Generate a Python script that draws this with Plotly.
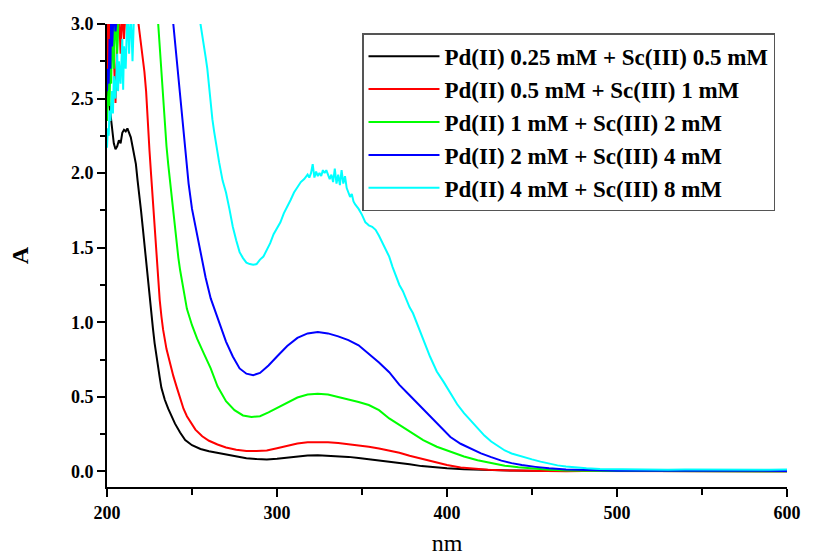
import plotly.graph_objects as go

# ---- data ----
names = [
    "Pd(II) 0.25 mM + Sc(III) 0.5 mM",
    "Pd(II) 0.5 mM + Sc(III) 1 mM",
    "Pd(II) 1 mM + Sc(III) 2 mM",
    "Pd(II) 2 mM + Sc(III) 4 mM",
    "Pd(II) 4 mM + Sc(III) 8 mM",
]
colors = ["#000000", "#ff0000", "#00ff00", "#0000ff", "#00ffff"]

wl_black = [200, 201, 202, 203, 204, 205, 206, 207, 208, 209, 210, 211, 212, 213, 214, 215, 216, 217, 218, 219,
            220, 221, 222, 223, 224, 225, 226, 227, 228, 229, 230, 231, 232, 234, 236, 238, 240, 243, 246, 250,
            255, 260, 265, 270, 276, 282, 288, 294, 300, 306, 312, 318, 324, 330, 336, 342, 348, 354, 360, 366,
            372, 378, 385, 392, 400, 410, 420, 430, 440, 450, 460, 480, 500, 520, 540, 560, 580, 600]
a_black = [2.55, 2.50, 2.40, 2.30, 2.20, 2.16, 2.18, 2.22, 2.20, 2.27, 2.29, 2.28, 2.30, 2.27, 2.24, 2.18, 2.12, 2.06, 1.95, 1.86,
           1.75, 1.64, 1.52, 1.41, 1.30, 1.19, 1.08, 0.96, 0.86, 0.77, 0.70, 0.63, 0.56, 0.48, 0.42, 0.37, 0.32, 0.26, 0.21, 0.175,
           0.15, 0.135, 0.125, 0.115, 0.10, 0.088, 0.082, 0.080, 0.085, 0.092, 0.100, 0.106, 0.108, 0.106, 0.102, 0.097, 0.090, 0.082, 0.075, 0.066,
           0.057, 0.048, 0.035, 0.027, 0.020, 0.014, 0.010, 0.007, 0.005, 0.004, 0.003, 0.003, 0.002, 0.002, 0.001, 0.001, 0.002, 0.001]

wl_red = [200, 200.5, 201, 202, 203, 204, 205, 206, 207, 208, 209, 210, 211, 212, 214, 216, 218, 219, 220, 221,
          222, 223, 224, 225, 226, 227, 228, 229, 230, 231, 232, 233, 235, 237, 239, 241, 243, 245, 247, 249,
          252, 256, 260, 265, 270, 276, 282, 288, 294, 300, 306, 312, 318, 324, 330, 336, 342, 348, 354, 360,
          366, 372, 378, 385, 392, 400, 408, 416, 424, 432, 440, 450, 460, 470, 480, 500, 520, 540, 560, 580, 600]
a_red = [3.10, 2.60, 3.10, 2.90, 3.10, 2.70, 2.47, 2.90, 3.10, 2.80, 3.10, 2.90, 3.10, 3.10, 3.10, 3.10, 3.05, 2.96, 2.88, 2.80,
         2.68, 2.55, 2.32, 2.15, 1.98, 1.80, 1.63, 1.46, 1.29, 1.15, 1.04, 0.95, 0.82, 0.72, 0.64, 0.565, 0.49, 0.42, 0.37, 0.33,
         0.28, 0.235, 0.205, 0.18, 0.16, 0.145, 0.137, 0.136, 0.140, 0.155, 0.172, 0.187, 0.195, 0.197, 0.195, 0.190, 0.182, 0.175, 0.165, 0.153,
         0.140, 0.125, 0.105, 0.085, 0.060, 0.042, 0.026, 0.016, 0.011, 0.007, 0.005, 0.003, 0.002, 0.000, 0.002, 0.001, 0.000, 0.002, 0.001, 0.000, 0.001]

wl_green = [200, 201, 201.5, 202, 202.5, 203, 204, 205, 206, 207, 208, 210, 215, 220, 225, 229, 230, 231, 232, 233,
            234, 235, 236, 237, 238, 239, 240, 241, 242, 243, 245, 247, 250, 253, 257, 261, 265, 270, 275, 280,
            285, 290, 295, 300, 306, 312, 318, 324, 330, 336, 342, 348, 354, 360, 366, 372, 378, 386, 394, 402,
            410, 418, 426, 434, 442, 450, 460, 470, 480, 500, 520, 540, 560, 580, 600]
a_green = [2.35, 2.60, 2.45, 2.80, 2.60, 3.10, 2.70, 3.10, 2.80, 3.10, 3.10, 3.10, 3.10, 3.10, 3.10, 3.10, 3.02, 2.85, 2.66, 2.48,
           2.30, 2.18, 2.06, 1.95, 1.84, 1.73, 1.62, 1.52, 1.43, 1.35, 1.21, 1.09, 0.98, 0.89, 0.79, 0.69, 0.57, 0.47, 0.41, 0.375,
           0.365, 0.370, 0.395, 0.425, 0.460, 0.495, 0.515, 0.520, 0.515, 0.500, 0.480, 0.465, 0.445, 0.410, 0.355, 0.310, 0.270, 0.210, 0.165, 0.130,
           0.100, 0.075, 0.055, 0.038, 0.027, 0.018, 0.011, 0.006, 0.004, 0.003, 0.002, 0.003, 0.001, 0.002, 0.001]

wl_blue = [200, 200.5, 201, 201.5, 202, 202.5, 203, 204, 205, 206, 208, 215, 225, 235, 238, 239, 240, 241, 242, 243,
           244, 245, 246, 247, 248, 250, 252, 254, 256, 258, 261, 264, 267, 270, 274, 278, 282, 286, 290, 295,
           300, 306, 312, 318, 324, 330, 336, 342, 348, 354, 360, 366, 372, 378, 384, 390, 396, 402, 408, 414,
           420, 426, 432, 438, 444, 452, 460, 470, 480, 490, 500, 520, 540, 560, 580, 600]
a_blue = [2.55, 2.70, 2.60, 2.90, 2.70, 3.10, 2.85, 3.10, 2.95, 3.10, 3.10, 3.10, 3.10, 3.10, 3.10, 3.00, 2.88, 2.75, 2.62, 2.50,
          2.38, 2.25, 2.15, 2.03, 1.93, 1.76, 1.64, 1.53, 1.42, 1.30, 1.16, 1.06, 0.96, 0.87, 0.77, 0.69, 0.655, 0.645, 0.660, 0.710,
          0.770, 0.840, 0.895, 0.925, 0.935, 0.925, 0.905, 0.880, 0.845, 0.790, 0.730, 0.665, 0.580, 0.510, 0.440, 0.370, 0.300, 0.230, 0.185, 0.150,
          0.120, 0.095, 0.072, 0.055, 0.042, 0.030, 0.020, 0.013, 0.009, 0.006, 0.004, 0.004, 0.003, 0.004, 0.002, 0.003]

wl_cyan = [200, 200.5, 201, 201.5, 202, 203, 203.5, 204, 205, 206, 206.5, 207, 208, 209, 209.5, 210, 211, 212, 213, 214,
           215, 216, 220, 230, 240, 250, 254, 255, 256, 257, 258, 259, 260, 261, 262, 263, 264, 265, 266, 268,
           270, 272, 274, 276, 278, 280, 282, 284, 286, 288, 290, 292, 294, 296, 298, 300, 302, 304, 306, 308,
           310, 312, 314, 316, 318, 319, 320, 321, 322, 323, 324, 325, 326, 327, 328, 329, 330, 331, 332, 333,
           334, 335, 336, 337, 338, 339, 340, 341, 342, 343, 344, 345, 346, 348, 350, 351, 352, 353, 354, 356,
           358, 360, 362, 364, 366, 368, 370, 372, 374, 376, 378, 380, 382, 384, 386, 388, 390, 392, 394, 398,
           402, 406, 410, 414, 418, 422, 426, 430, 434, 438, 442, 446, 450, 455, 460, 465, 470, 476, 482, 490,
           500, 510, 520, 530, 540, 550, 560, 570, 580, 590, 600]
a_cyan = [2.17, 2.30, 2.25, 2.42, 2.35, 2.55, 2.40, 2.65, 2.50, 2.80, 2.55, 2.75, 2.60, 2.90, 2.56, 2.85, 2.70, 3.10, 2.80, 3.10,
          2.75, 3.10, 3.10, 3.10, 3.10, 3.10, 3.10, 3.00, 2.93, 2.88, 2.78, 2.70, 2.58, 2.46, 2.36, 2.28, 2.20, 2.13, 2.07, 1.95,
          1.87, 1.76, 1.64, 1.55, 1.47, 1.43, 1.40, 1.39, 1.385, 1.39, 1.42, 1.44, 1.48, 1.53, 1.59, 1.63, 1.67, 1.73, 1.77, 1.82,
          1.87, 1.91, 1.94, 1.96, 1.99, 1.97, 2.00, 2.06, 1.97, 2.01, 1.98, 2.00, 1.98, 2.02, 2.00, 2.02, 1.99, 1.96, 1.99, 1.94,
          2.03, 1.93, 1.99, 1.92, 2.02, 1.93, 1.98, 1.90, 1.87, 1.84, 1.86, 1.81, 1.79, 1.76, 1.72, 1.69, 1.67, 1.66, 1.65, 1.64,
          1.62, 1.58, 1.53, 1.48, 1.44, 1.37, 1.31, 1.25, 1.21, 1.15, 1.10, 1.06, 1.00, 0.95, 0.89, 0.83, 0.77, 0.72, 0.67, 0.60,
          0.52, 0.45, 0.39, 0.34, 0.29, 0.24, 0.20, 0.17, 0.14, 0.12, 0.105, 0.09, 0.08, 0.065, 0.05, 0.04, 0.033, 0.025, 0.020, 0.016,
          0.014, 0.012, 0.013, 0.010, 0.012, 0.011, 0.013, 0.010, 0.012, 0.011, 0.012]

x_ticks = [200, 300, 400, 500, 600]
y_ticks = [0.0, 0.5, 1.0, 1.5, 2.0, 2.5, 3.0]

series_x = [wl_black, wl_red, wl_green, wl_blue, wl_cyan]
series_y = [a_black, a_red, a_green, a_blue, a_cyan]

FONT = "Liberation Serif, Times New Roman, serif"

fig = go.Figure()
for nm_, xs, ys, c in zip(names, series_x, series_y, colors):
    fig.add_trace(go.Scatter(x=xs, y=ys, mode="lines", name=nm_,
                             line=dict(color=c, width=2), cliponaxis=True))

axis_common = dict(
    showgrid=False, zeroline=False, showline=True, linecolor="black", linewidth=2,
    ticks="outside", ticklen=8, tickwidth=1.5, tickcolor="black",
    tickfont=dict(family=FONT, size=18, color="black", weight="bold"),
    mirror=False, automargin=False,
)

fig.update_layout(
    width=819, height=556,
    margin=dict(l=107, r=32, t=24, b=69, pad=0),
    paper_bgcolor="white", plot_bgcolor="white",
    xaxis=dict(range=[200, 600], tickvals=x_ticks, ticktext=[str(v) for v in x_ticks],
               minor=dict(dtick=50, tick0=200, ticks="outside", ticklen=6, tickwidth=1.5, tickcolor="black"),
               title=dict(text="nm", font=dict(family=FONT, size=24, color="black"), standoff=15),
               **axis_common),
    yaxis=dict(range=[-0.105, 3.0], tickvals=y_ticks, ticktext=[f"{v:.1f}" for v in y_ticks],
               minor=dict(dtick=0.25, tick0=0, ticks="outside", ticklen=5, tickwidth=1.5, tickcolor="black"),
               title=dict(text="A", font=dict(family=FONT, size=24, color="black", weight="bold"), standoff=36),
               **axis_common),
    legend=dict(x=0.375, y=0.98, xanchor="left", yanchor="top",
                bgcolor="white", bordercolor="#555555", borderwidth=1.5,
                font=dict(family=FONT, size=23, color="black", weight="bold"),
                itemwidth=71, tracegroupgap=0),
    showlegend=True,
)

fig.write_html("out.html")
